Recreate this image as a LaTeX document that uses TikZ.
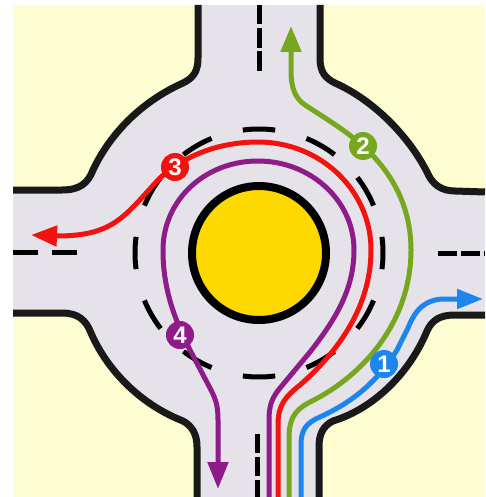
\documentclass[tikz,border=0pt]{standalone}
\usepackage{fontspec}
\setsansfont{Liberation Sans}
\usetikzlibrary{arrows.meta}
\definecolor{groundyellow}{HTML}{FEFDD2}
\definecolor{roadgrey}{HTML}{E6E2EA}
\definecolor{islandyellow}{HTML}{FDD900}
\definecolor{routeblue}{HTML}{1C86EE}
\definecolor{routegreen}{HTML}{76A71E}
\definecolor{routered}{HTML}{F2120F}
\definecolor{routepurple}{HTML}{8E1B87}
\tikzset{
  kerb/.style={line width=7pt,draw=black!90},
  lanemark/.style={line width=5pt,black},
  route/.style={line width=5pt},
  badge/.style={circle,fill=#1,text=white,minimum size=28pt,inner sep=0pt,
    font=\sffamily\bfseries\fontsize{24}{24}\selectfont},
}
\def\kerbnw{(198,5) .. controls (198,30) and (198,45) .. (198,58) .. controls (198,72) and (193,78) .. (183,83) .. controls (145,100) and (112,130) .. (93,170) .. controls (88,183) and (80,190) .. (62,190) -- (13,190)}
\def\kerbne{(320,5) -- (320,58) .. controls (320,72) and (325,78) .. (335,83) .. controls (373,100) and (408,135) .. (427,172) .. controls (432,184) and (441,191) .. (455,191) -- (485,192)}
\def\kerbsw{(13,313) -- (62,313) .. controls (78,313) and (86,320) .. (91,333) .. controls (108,372) and (142,405) .. (183,421) .. controls (192,426) and (197,434) .. (197,447) -- (197,497)}
\def\kerbse{(485,315) -- (455,315) .. controls (440,315) and (432,320) .. (427,331) .. controls (410,372) and (375,408) .. (333,421) .. controls (323,426) and (319,434) .. (319,447) -- (319,497)}
\begin{document}
\begin{tikzpicture}[x=1pt,y=-1pt]
\useasboundingbox (0,0) rectangle (485,497);
\fill[white] (0,0) rectangle (485,497);
\fill[roadgrey] (13,5) rectangle (485,497);
% corners
\fill[groundyellow] \kerbnw -- (13,5) -- cycle;
\fill[groundyellow] \kerbne -- (485,5) -- cycle;
\fill[groundyellow] \kerbsw -- (13,497) -- cycle;
\fill[groundyellow] \kerbse -- (485,497) -- cycle;
\draw[kerb] \kerbnw;
\draw[kerb] \kerbne;
\draw[kerb] \kerbsw;
\draw[kerb] \kerbse;
% centre lines
\foreach \ya/\yb in {5/24,28/48,51/71}
  \draw[lanemark] (259,\ya) -- (259,\yb);
\foreach \ya/\yb in {434/453,457/476,480/497}
  \draw[lanemark] (257,\ya) -- (257,\yb);
\foreach \xa/\xb in {13/38,52/77}
  \draw[lanemark] (\xa,252) -- (\xb,252);
\foreach \xa/\xb in {438/457,461/480,484/485}
  \draw[lanemark] (\xa,253) -- (\xb,253);
% ring
\foreach \a in {0,30,...,330}
  \draw[lanemark] ([shift={(\a-7.5:124)}]259,253) arc (\a-7.5:\a+7.5:124);
\draw[line width=8pt,black,fill=islandyellow] (259,253) circle (67);
% routes
\draw[route,routepurple,-{Triangle[width=20pt,length=27pt]}] (269,497) -- (269,420) .. controls (269,405) and (272,398) .. (280,388) -- (310,352) .. controls (335,320) and (354,290) .. (354,250) .. controls (354,200) and (310,161) .. (258,161) .. controls (205,161) and (163,200) .. (163,250) .. controls (163,290) and (175,320) .. (190,350) -- (211,390) .. controls (216,400) and (218,406) .. (218,420) -- (218,489);
\draw[route,routered,-{Triangle[width=20pt,length=26pt]}] (278,497) -- (278,425) .. controls (278,405) and (285,397) .. (300,385) .. controls (340,350) and (371,305) .. (371,250) .. controls (371,190) and (320,142) .. (258,142) .. controls (220,142) and (185,155) .. (160,178) .. controls (125,215) and (115,236) .. (57,236) -- (31,235);
\draw[route,routegreen,-{Triangle[width=20pt,length=26pt]}] (289,497) -- (289,440) .. controls (289,420) and (293,411) .. (310,402) .. controls (365,375) and (411,320) .. (411,250) .. controls (411,210) and (395,175) .. (363,146) .. controls (345,130) and (325,118) .. (305,105) .. controls (295,98) and (291,88) .. (291,70) -- (291,26);
\draw[route,routeblue,-{Triangle[width=19pt,length=26pt]}] (301,497) -- (301,445) .. controls (301,430) and (306,423) .. (320,417) .. controls (350,403) and (375,385) .. (397,350) -- (408,328) .. controls (415,310) and (425,299) .. (445,299) -- (483,299);
% badges
\node[badge=routeblue] (one) at (384,364) {1};
\node[badge=routegreen] (two) at (363,146) {2};
\node[badge=routered] (three) at (175,167) {3};
\node[badge=routepurple] (four) at (180,335) {4};
\end{tikzpicture}
\end{document}
